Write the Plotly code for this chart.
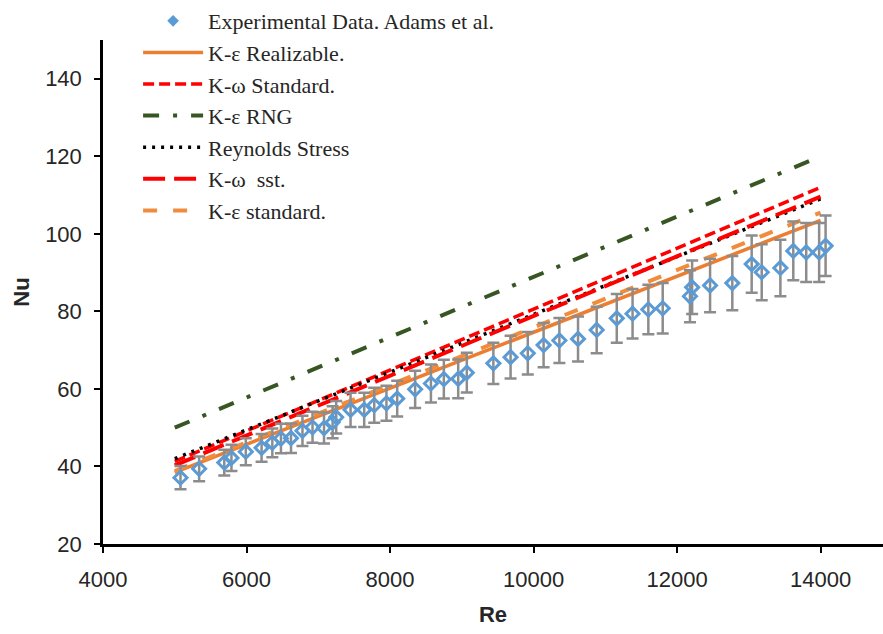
import plotly.graph_objects as go

# Experimental data (Adams et al.)
re_exp = [5080, 5340, 5690, 5790, 5990, 6210, 6360, 6480, 6620, 6780,
          6920, 7080, 7200, 7250, 7450, 7640, 7780, 7950, 8100, 8350,
          8570, 8750, 8950, 9070, 9440, 9680, 9920, 10140, 10360, 10620,
          10880, 11160, 11380, 11600, 11800, 12180, 12210, 12460, 12770, 13040,
          13180, 13440, 13620, 13800, 13980, 14070]
nu_exp = [37.1, 39.4, 41.0, 42.2, 43.8, 44.8, 46.1, 47.2, 47.3, 49.2,
          50.1, 49.9, 51.4, 52.7, 54.6, 54.6, 55.8, 56.3, 57.5, 59.9,
          61.4, 62.5, 62.6, 64.2, 66.6, 68.2, 69.2, 71.3, 72.5, 72.9,
          75.2, 78.2, 79.4, 80.5, 80.8, 83.9, 86.2, 86.7, 87.3, 92.2,
          90.1, 91.2, 95.6, 95.2, 95.2, 96.9]
nu_err = [3.0, 3.2, 3.3, 3.4, 3.5, 3.6, 3.7, 3.8, 3.8, 3.9,
          4.0, 4.0, 4.1, 4.2, 4.4, 4.4, 4.5, 4.5, 4.6, 4.8,
          4.9, 5.0, 5.0, 5.1, 5.3, 5.5, 5.5, 5.7, 5.8, 5.8,
          6.0, 6.3, 6.4, 6.4, 6.5, 6.7, 6.9, 6.9, 7.0, 7.4,
          7.2, 7.3, 7.6, 7.6, 7.6, 7.8]

# Simulation results (straight trends)
re_sim = [5000, 14000]
nu_ke_realizable = [38.5, 103.5]
nu_kw_standard = [41.3, 112.0]
nu_ke_rng = [50.0, 120.0]
nu_reynolds_stress = [42.0, 109.0]
nu_kw_sst = [40.3, 109.6]
nu_ke_standard = [38.8, 105.5]

x_ticks = [4000, 6000, 8000, 10000, 12000, 14000]
x_labels = ["4000", "6000", "8000", "10000", "12000", "14000"]
y_ticks = [20, 40, 60, 80, 100, 120, 140]
y_labels = ["20", "40", "60", "80", "100", "120", "140"]

fig = go.Figure()

sim_series = [
    ("K-ε Realizable.", nu_ke_realizable, "#ED7D31", None, 3.5),
    ("K-ω Standard.", nu_kw_standard, "#FF0000", "11px,5px", 3.5),
    ("K-ε RNG", nu_ke_rng, "#375623", "16px,14px,4px,14px", 4),
    ("Reynolds Stress", nu_reynolds_stress, "#000000", "3px,6px", 3.5),
    ("K-ω\u00a0 sst.", nu_kw_sst, "#FF0000", "22px,9px", 4),
    ("K-ε standard.", nu_ke_standard, "#F08C3C", "14px,16px", 4),
]

# legend-only entry for the experimental data (filled diamond)
fig.add_trace(go.Scatter(
    x=[None], y=[None], mode="markers", name="Experimental Data. Adams et al.",
    marker=dict(symbol="diamond", size=9, color="#5B9BD5"),
    legendrank=1,
))

for name, vals, color, dash, w in sim_series:
    line = dict(color=color, width=w)
    if dash:
        line["dash"] = dash
    fig.add_trace(go.Scatter(x=re_sim, y=vals, mode="lines", name=name,
                             line=line, legendrank=2))

fig.add_trace(go.Scatter(
    x=re_exp, y=nu_exp, mode="markers", showlegend=False,
    marker=dict(symbol="diamond-open", size=10, color="#5B9BD5",
                line=dict(width=3, color="#5B9BD5")),
    error_y=dict(type="data", array=nu_err, visible=True,
                 color="#8C8C8C", thickness=2.5, width=6),
))

fig.update_layout(
    width=883, height=634,
    margin=dict(l=103, r=0, t=35, b=90),
    plot_bgcolor="white", paper_bgcolor="white",
    showlegend=True,
    legend=dict(
        x=0.045, y=1.08, xanchor="left", yanchor="top",
        bgcolor="rgba(0,0,0,0)",
        font=dict(family="Liberation Serif, DejaVu Serif, serif", size=22, color="#262626"),
        tracegroupgap=0, itemwidth=60,
    ),
    font=dict(family="Liberation Sans, Arial", color="#262626"),
)

fig.update_xaxes(
    range=[4000, 14870], tickvals=x_ticks, ticktext=x_labels,
    showline=True, linecolor="black", linewidth=2.5,
    ticks="outside", ticklen=6, tickwidth=2, tickcolor="black",
    showgrid=False, zeroline=False, ticklabelstandoff=8,
    tickfont=dict(size=22, family="Liberation Sans, Arial", color="#262626"),
    title=dict(text="<b>Re</b>", font=dict(size=22, color="#262626"), standoff=16),
)
fig.update_yaxes(
    range=[20, 150], tickvals=y_ticks, ticktext=y_labels,
    showline=True, linecolor="black", linewidth=2.5,
    ticks="outside", ticklen=6, tickwidth=2, tickcolor="black",
    showgrid=False, zeroline=False, ticklabelstandoff=8,
    tickfont=dict(size=22, family="Liberation Sans, Arial", color="#262626"),
    title=dict(text="<b>Nu</b>", font=dict(size=22, color="#262626"), standoff=10),
)

fig.write_html("out.html")
